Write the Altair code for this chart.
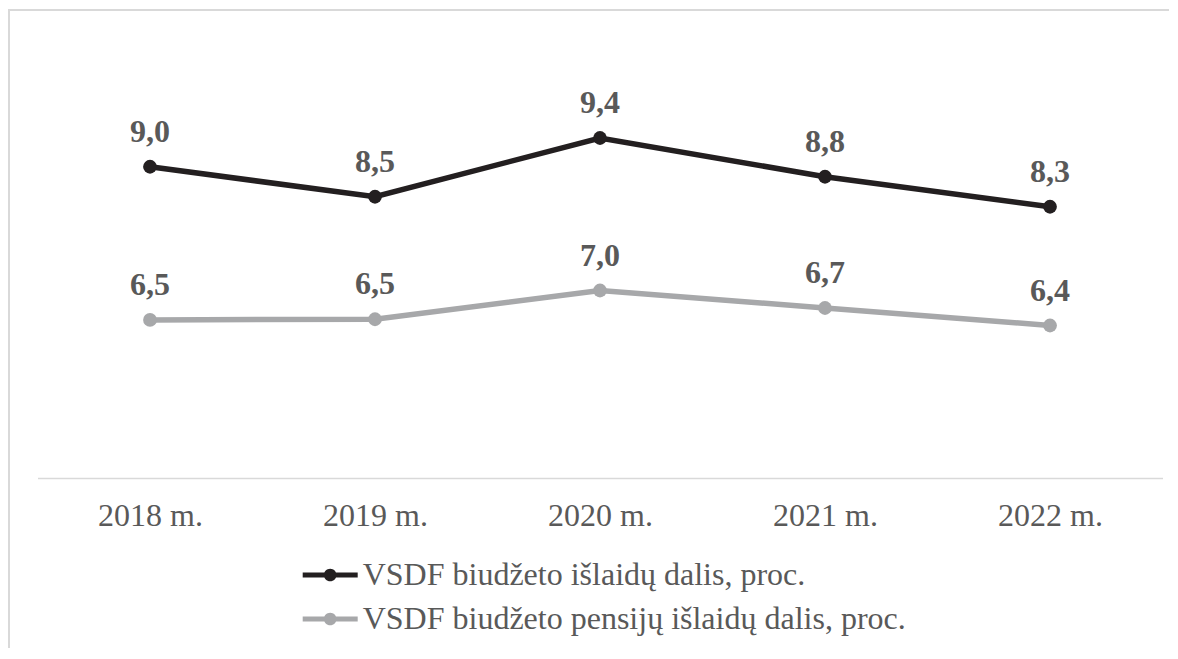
import altair as alt
import pandas as pd

# ---- data ----
years = ["2018 m.", "2019 m.", "2020 m.", "2021 m.", "2022 m."]
series_names = [
    "VSDF biudžeto išlaidų dalis, proc.",
    "VSDF biudžeto pensijų išlaidų dalis, proc.",
]
total_share = [8.98, 8.50, 9.44, 8.82, 8.34]
pension_share = [6.53, 6.54, 7.00, 6.72, 6.44]
colors = ["#231f20", "#a7a8aa"]

rows = []
for yr, v in zip(years, total_share):
    rows.append({"year": yr, "series": series_names[0], "value": v})
for yr, v in zip(years, pension_share):
    rows.append({"year": yr, "series": series_names[1], "value": v})
df = pd.DataFrame(rows)

FONT = "Liberation Serif"
TXT = "#595959"

base = alt.Chart(df).transform_calculate(
    label="replace(format(datum.value, '.1f'), '.', ',')"
)

x_enc = alt.X(
    "year:N",
    sort=years,
    axis=alt.Axis(
        title=None,
        labelAngle=0,
        ticks=False,
        grid=False,
        domainColor="#d9d9d9",
        domainWidth=1.5,
        labelFont=FONT,
        labelFontSize=32,
        labelColor=TXT,
        labelPadding=22,
    ),
)
y_enc = alt.Y("value:Q", scale=alt.Scale(domain=[4, 11], nice=False, zero=False), axis=None)
color_scale = alt.Scale(domain=series_names, range=colors)

legend_symbol = (
    "M-1,-0.09H1V0.09H-1Z "
    "M0.23,0A0.23,0.23 0 1,1 -0.23,0A0.23,0.23 0 1,1 0.23,0Z"
)

line_layers = [
    base.transform_filter(alt.datum.series == name)
    .mark_line(strokeWidth=5.5, color=col)
    .encode(x=x_enc, y=y_enc)
    for name, col in zip(series_names, colors)
]

points = base.mark_point(filled=True, size=190, opacity=1).encode(
    x=x_enc,
    y=y_enc,
    color=alt.Color(
        "series:N",
        scale=color_scale,
        legend=alt.Legend(
            title=None,
            orient="none",
            legendX=265.2,
            legendY=507,
            direction="vertical",
            symbolType=legend_symbol,
            symbolSize=3025,
            symbolStrokeWidth=0,
            symbolOpacity=1,
            labelFont=FONT,
            labelFontSize=32,
            labelColor=TXT,
            labelOffset=5,
            labelLimit=1000,
            rowPadding=-19,
            padding=0,
        ),
    ),
)

labels = base.mark_text(
    font=FONT,
    fontSize=32,
    fontWeight="bold",
    color=TXT,
    dy=-25,
    baseline="alphabetic",
    align="center",
).encode(x=x_enc, y=y_enc, text="label:N")

frame_df = pd.DataFrame({"k": [0]})
frame_top = alt.Chart(frame_df).mark_rule(color="#d9d9d9", strokeWidth=2).encode(
    x=alt.value(-29.5), x2=alt.value(1131.5), y=alt.value(-30.5)
)
frame_left = alt.Chart(frame_df).mark_rule(color="#d9d9d9", strokeWidth=2).encode(
    x=alt.value(-28.5), y=alt.value(-31.5), y2=alt.value(607.5)
)

chart = (
    alt.layer(frame_top, frame_left, *line_layers, points, labels)
    .properties(
        width=1125,
        height=437.5,
        autosize=alt.AutoSizeParams(type="none"),
        padding={"left": 29.5, "top": 32.5, "right": 7, "bottom": 170},
        background="white",
    )
    .configure_view(stroke=None)
)

chart.save("out.html", embed_options={"renderer": "svg", "actions": False})
